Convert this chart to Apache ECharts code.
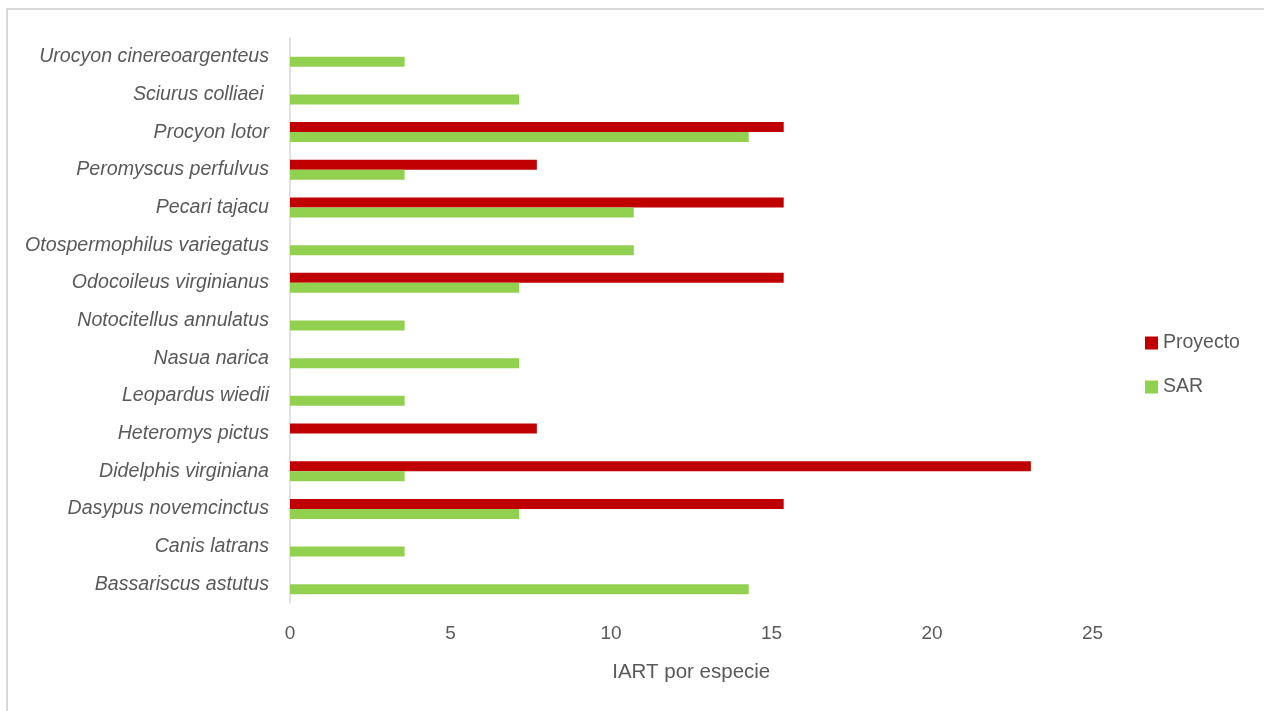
<!DOCTYPE html>
<html>
<head>
<meta charset="utf-8">
<script src="https://cdn.jsdelivr.net/npm/echarts@6/dist/echarts.min.js"></script>
<style>
  html, body { margin: 0; padding: 0; background: #ffffff; }
  #chart { width: 1264px; height: 711px; }
</style>
</head>
<body>
<div id="chart"></div>
<script>
// Species, listed bottom to top as they appear on the category axis
const species = [
  'Bassariscus astutus',
  'Canis latrans',
  'Dasypus novemcinctus',
  'Didelphis virginiana',
  'Heteromys pictus',
  'Leopardus wiedii',
  'Nasua narica',
  'Notocitellus annulatus',
  'Odocoileus virginianus',
  'Otospermophilus variegatus',
  'Pecari tajacu',
  'Peromyscus perfulvus',
  'Procyon lotor',
  'Sciurus colliaei ',
  'Urocyon cinereoargenteus'
];

// IART per species, project area
const proyecto = [0, 0, 15.38, 23.08, 7.69, 0, 0, 0, 15.38, 0, 15.38, 7.69, 15.38, 0, 0];

// IART per species, regional system (SAR)
const sar = [14.29, 3.57, 7.14, 3.57, 0, 3.57, 7.14, 3.57, 7.14, 10.71, 10.71, 3.57, 14.29, 7.14, 3.57];

// Value axis ticks
const xTicks = [0, 5, 10, 15, 20, 25];

const FONT = '"Liberation Sans Narrow", "Arial Narrow", "Liberation Sans", Arial, sans-serif';
const TEXT = '#595959';

const chart = echarts.init(document.getElementById('chart'), null, { renderer: 'canvas' });

chart.setOption({
  backgroundColor: '#ffffff',
  animation: false,
  textStyle: { fontFamily: FONT, color: TEXT },
  graphic: [{
    type: 'rect',
    silent: true,
    shape: { x: 7, y: 9, width: 1400, height: 1000 },
    style: { fill: 'none', stroke: '#d9d9d9', lineWidth: 2 }
  }],
  legend: {
    orient: 'vertical',
    left: 1140,
    top: 328,
    itemWidth: 13,
    itemHeight: 13,
    itemGap: 24,
    icon: 'rect',
    data: ['Proyecto', 'SAR'],
    textStyle: { fontFamily: FONT, fontSize: 19.5, color: TEXT }
  },
  grid: {
    left: 290,
    right: 171.5,
    top: 37.9,
    bottom: 711 - 603.1,
    containLabel: false,
    outerBoundsMode: 'none'
  },
  xAxis: {
    type: 'value',
    min: xTicks[0],
    max: xTicks[xTicks.length - 1],
    interval: xTicks[1] - xTicks[0],
    axisLine: { show: false },
    axisTick: { show: false },
    splitLine: { show: false },
    axisLabel: { fontFamily: FONT, fontSize: 19, color: TEXT, margin: 21 },
    name: 'IART por especie',
    nameLocation: 'middle',
    nameGap: 59,
    nameTextStyle: { fontFamily: FONT, fontSize: 20.5, color: TEXT }
  },
  yAxis: {
    type: 'category',
    data: species,
    axisLine: { show: true, lineStyle: { color: '#d9d9d9', width: 1.5 } },
    axisTick: { show: false },
    splitLine: { show: false },
    axisLabel: {
      fontFamily: FONT, fontSize: 19.6, fontStyle: 'italic', color: TEXT, margin: 21,
      padding: [4, 0, 0, 0]
    }
  },
  series: [
    {
      name: 'Proyecto',
      type: 'bar',
      data: proyecto,
      barWidth: 10,
      barGap: '0%',
      itemStyle: { color: '#c00000' }
    },
    {
      name: 'SAR',
      type: 'bar',
      data: sar,
      barWidth: 10,
      barGap: '0%',
      itemStyle: { color: '#92d050' }
    }
  ]
});
</script>
</body>
</html>
